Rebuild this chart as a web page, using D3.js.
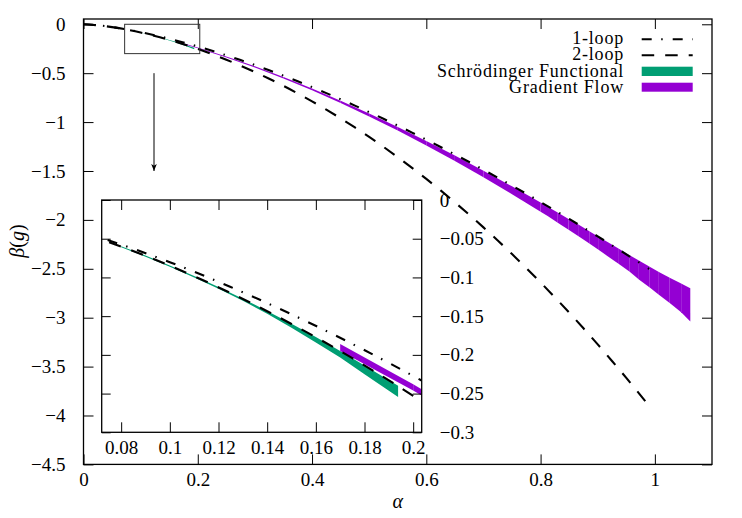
<!DOCTYPE html>
<html><head><meta charset="utf-8">
<script src="https://cdn.jsdelivr.net/npm/d3@7"></script>
<style>
body{margin:0;background:#fff;}
svg{display:block;}
svg text{font-family:"Liberation Serif","DejaVu Serif",serif !important;}
</style></head><body>
<svg id="c" width="742" height="518"></svg>
<script>
// ---------- data ----------
const alpha   = [0,0.025,0.05,0.075,0.1,0.125,0.15,0.175,0.2,0.225,0.25,0.275,0.3,0.325,0.35,0.375,0.4,0.425,0.45,0.475,0.5,0.525,0.55,0.575,0.6,0.625,0.65,0.675,0.7,0.725,0.75,0.775,0.8,0.825,0.85,0.875,0.9,0.925,0.95,0.975,0.99];
const oneLoop = [0,-0.0100,-0.0284,-0.0522,-0.0803,-0.1123,-0.1476,-0.1859,-0.2272,-0.2711,-0.3175,-0.3663,-0.4174,-0.4706,-0.5259,-0.5833,-0.6426,-0.7038,-0.7668,-0.8315,-0.8980,-0.9662,-1.0360,-1.1075,-1.1805,-1.2550,-1.3311,-1.4086,-1.4876,-1.5680,-1.6498,-1.7329,-1.8175,-1.9033,-1.9905,-2.0790,-2.1687,-2.2597,-2.3519,-2.4454,-2.5020];
const twoLoop = [0,-0.0101,-0.0292,-0.0544,-0.0849,-0.1202,-0.1601,-0.2043,-0.2529,-0.3056,-0.3624,-0.4233,-0.4882,-0.5571,-0.6300,-0.7070,-0.7880,-0.8730,-0.9620,-1.0550,-1.1520,-1.2532,-1.3584,-1.4678,-1.5812,-1.6988,-1.8206,-1.9465,-2.0767,-2.2111,-2.3498,-2.4927,-2.6401,-2.7917,-2.9477,-3.1082,-3.2729,-3.4422,-3.6160,-3.7943,-3.9030];

const sfAlpha = [0.08,0.09,0.10,0.11,0.12,0.13,0.14,0.15,0.16,0.17,0.18,0.1938];
const sfUpper = [-0.0598,-0.0718,-0.0846,-0.0982,-0.1125,-0.1275,-0.1432,-0.1597,-0.1770,-0.1950,-0.2136,-0.2400];
const sfLower = [-0.0610,-0.0732,-0.0862,-0.1000,-0.1147,-0.1302,-0.1468,-0.1650,-0.1840,-0.2035,-0.2250,-0.2545];

const gfAlpha = [0.17,0.2,0.25,0.3,0.35,0.4,0.45,0.5,0.55,0.6,0.65,0.7,0.75,0.8,0.813,0.83,0.849,0.867,0.886,0.902,0.918,0.937,0.956,0.972,0.991,1.007,1.026,1.046,1.062];
const gfUpper = [-0.186,-0.238,-0.330,-0.430,-0.540,-0.657,-0.782,-0.913,-1.050,-1.193,-1.342,-1.497,-1.657,-1.822,-1.868,-1.925,-1.990,-2.050,-2.118,-2.174,-2.229,-2.296,-2.361,-2.416,-2.480,-2.532,-2.591,-2.651,-2.700];
const gfLower = [-0.195,-0.246,-0.340,-0.442,-0.555,-0.675,-0.805,-0.942,-1.087,-1.240,-1.398,-1.563,-1.738,-1.918,-1.963,-2.028,-2.101,-2.170,-2.245,-2.309,-2.374,-2.451,-2.530,-2.610,-2.690,-2.765,-2.850,-2.945,-3.040];

const xTicks = [0,0.2,0.4,0.6,0.8,1];
const xTickLabels = ["0","0.2","0.4","0.6","0.8","1"];
const yTicks = [0,-0.5,-1,-1.5,-2,-2.5,-3,-3.5,-4,-4.5];
const yTickLabels = ["0","\u22120.5","\u22121","\u22121.5","\u22122","\u22122.5","\u22123","\u22123.5","\u22124","\u22124.5"];
const insetXTicks = [0.08,0.1,0.12,0.14,0.16,0.18,0.2];
const insetXTickLabels = ["0.08","0.1","0.12","0.14","0.16","0.18","0.2"];
const insetYTicks = [0,-0.05,-0.1,-0.15,-0.2,-0.25,-0.3];
const insetYTickLabels = ["0","\u22120.05","\u22120.1","\u22120.15","\u22120.2","\u22120.25","\u22120.3"];
const insetXDomain = [0.072,0.2035];
const insetYDomain = [-0.3,0];
const arrowAlpha = [0.1234,0.1234];
const arrowBeta = [-0.5,-1.5];
const legendLabels = ["1-loop","2-loop","Schr\u00f6dinger Functional","Gradient Flow"];

// ---------- styles ----------
const GREEN = "#009e73", PURPLE = "#9400d3";
const DASH1 = "10,9.5,1.5,10";   // dash-dot
const DASH2 = "12.5,11";         // dashed
const LW = 2.1;
const FONT = 19;

const svg = d3.select("#c");
svg.append("rect").attr("width",742).attr("height",518).attr("fill","#fff");

// ---------- main scales ----------
const x = d3.scaleLinear().domain([0,1.1]).range([83.5,712]);
const y = d3.scaleLinear().domain([-4.5,0.054]).range([464.4,19]);

const defs = svg.append("defs");
defs.append("clipPath").attr("id","clipMain").append("rect")
  .attr("x",x.range()[0]).attr("y",y.range()[1])
  .attr("width",x.range()[1]-x.range()[0]).attr("height",y.range()[0]-y.range()[1]);

function drawPlot(g, xs, ys, clipId){
  const pg = g.append("g").attr("clip-path",`url(#${clipId})`);
  const sfData = sfAlpha.map((a,i)=>({a,u:sfUpper[i],l:sfLower[i]}));
  pg.append("path").datum(sfData)
    .attr("d", d3.area().x(d=>xs(d.a)).y0(d=>ys(d.l)).y1(d=>ys(d.u)))
    .attr("fill",GREEN);
  const gfData = gfAlpha.map((a,i)=>({a,u:gfUpper[i],l:gfLower[i]}));
  const ar = d3.area().x(d=>xs(d.a)).y0(d=>ys(d.l)).y1(d=>ys(d.u));
  for(let i=0;i<gfData.length-1;i++){
    pg.append("path").datum([gfData[i],gfData[i+1]]).attr("d",ar).attr("fill",PURPLE);
  }
  const pts1 = alpha.map((a,i)=>[a,oneLoop[i]]);
  const pts2 = alpha.map((a,i)=>[a,twoLoop[i]]);
  const ln = d3.line().x(d=>xs(d[0])).y(d=>ys(d[1])).curve(d3.curveMonotoneX);
  pg.append("path").datum(pts2).attr("d",ln).attr("fill","none")
    .attr("stroke","#000").attr("stroke-width",LW).attr("stroke-dasharray",DASH2);
  pg.append("path").datum(pts1).attr("d",ln).attr("fill","none")
    .attr("stroke","#000").attr("stroke-width",LW).attr("stroke-dasharray",DASH1);
}

const main = svg.append("g");
drawPlot(main, x, y, "clipMain");

function styleAxis(g){
  g.select(".domain").remove();
  g.attr("font-size",FONT);
  g.selectAll(".tick line").attr("stroke","#000").attr("stroke-width",1);
  g.selectAll(".tick text").attr("fill","#000");
}

main.append("g").attr("transform",`translate(0,${y.range()[0]})`)
  .call(d3.axisBottom(x).tickValues(xTicks).tickFormat((d,i)=>xTickLabels[i]).tickSizeInner(-10).tickSizeOuter(0).tickPadding(8.5))
  .call(styleAxis);
main.append("g").attr("transform",`translate(0,${y.range()[1]})`)
  .call(d3.axisTop(x).tickValues(xTicks).tickFormat("").tickSizeInner(-10).tickSizeOuter(0))
  .call(styleAxis);
main.append("g").attr("transform",`translate(${x.range()[0]},0)`)
  .call(d3.axisLeft(y).tickValues(yTicks).tickFormat((d,i)=>yTickLabels[i]).tickSizeInner(-10).tickSizeOuter(0).tickPadding(18))
  .call(styleAxis);
main.append("g").attr("transform",`translate(${x.range()[1]},0)`)
  .call(d3.axisRight(y).tickValues(yTicks).tickFormat("").tickSizeInner(-10).tickSizeOuter(0))
  .call(styleAxis);
main.append("rect").attr("x",x.range()[0]).attr("y",y.range()[1])
  .attr("width",x.range()[1]-x.range()[0]).attr("height",y.range()[0]-y.range()[1])
  .attr("fill","none").attr("stroke","#000").attr("stroke-width",1.3);

main.append("rect")
  .attr("x",x(insetXDomain[0])).attr("y",y(insetYDomain[1]))
  .attr("width",x(insetXDomain[1])-x(insetXDomain[0])).attr("height",y(insetYDomain[0])-y(insetYDomain[1]))
  .attr("fill","none").attr("stroke","#333").attr("stroke-width",1);
defs.append("marker").attr("id","arr").attr("viewBox","0 0 10 10").attr("refX",10).attr("refY",5)
  .attr("markerWidth",7).attr("markerHeight",7).attr("markerUnits","userSpaceOnUse").attr("orient","auto")
  .append("path").attr("d","M0,1 L10,5 L0,9 L2.5,5 Z").attr("fill","#000");
main.append("line")
  .attr("x1",x(arrowAlpha[0])).attr("y1",y(arrowBeta[0]))
  .attr("x2",x(arrowAlpha[1])).attr("y2",y(arrowBeta[1]))
  .attr("stroke","#000").attr("stroke-width",1).attr("marker-end","url(#arr)");

svg.append("text").attr("x",x(0.55)).attr("y",508).attr("text-anchor","middle")
  .attr("font-size",FONT+1).attr("font-style","italic").text("\u03b1");
svg.append("text").attr("transform","translate(24,241) rotate(-90)").attr("text-anchor","middle")
  .attr("font-size",FONT+1).html('<tspan font-style="italic">\u03b2</tspan>(<tspan font-style="italic">g</tspan>)');

const lg = svg.append("g").attr("font-size",18).attr("letter-spacing","0.8");
const legY = [44.3,60.3,76.5,92.7];
legendLabels.forEach((t,i)=>{
  lg.append("text").attr("x",624).attr("y",legY[i]).attr("text-anchor","end").text(t);
});
lg.append("line").attr("x1",641.7).attr("x2",692.7).attr("y1",legY[0]-5).attr("y2",legY[0]-5)
  .attr("stroke","#000").attr("stroke-width",LW).attr("stroke-dasharray",DASH1);
lg.append("line").attr("x1",641.7).attr("x2",692.7).attr("y1",legY[1]-5).attr("y2",legY[1]-5)
  .attr("stroke","#000").attr("stroke-width",LW).attr("stroke-dasharray",DASH2);
lg.append("rect").attr("x",641.7).attr("y",legY[2]-9.8).attr("width",51).attr("height",9.3).attr("fill",GREEN);
lg.append("rect").attr("x",641.7).attr("y",legY[3]-10).attr("width",51).attr("height",9).attr("fill",PURPLE);

// ---------- inset ----------
const xi = d3.scaleLinear().domain(insetXDomain).range([101.7,421.7]);
const yi = d3.scaleLinear().domain(insetYDomain).range([432.3,200]);
defs.append("clipPath").attr("id","clipInset").append("rect")
  .attr("x",xi.range()[0]).attr("y",yi.range()[1])
  .attr("width",xi.range()[1]-xi.range()[0]).attr("height",yi.range()[0]-yi.range()[1]);
const inset = svg.append("g");
inset.append("rect").attr("x",xi.range()[0]).attr("y",yi.range()[1])
  .attr("width",xi.range()[1]-xi.range()[0]).attr("height",yi.range()[0]-yi.range()[1])
  .attr("fill","#fff");
drawPlot(inset, xi, yi, "clipInset");
inset.append("g").attr("transform",`translate(0,${yi.range()[0]})`)
  .call(d3.axisBottom(xi).tickValues(insetXTicks).tickFormat((d,i)=>insetXTickLabels[i]).tickSizeInner(-10).tickSizeOuter(0).tickPadding(8.5))
  .call(styleAxis);
inset.append("g").attr("transform",`translate(0,${yi.range()[1]})`)
  .call(d3.axisTop(xi).tickValues(insetXTicks).tickFormat("").tickSizeInner(-10).tickSizeOuter(0))
  .call(styleAxis);
inset.append("g").attr("transform",`translate(${xi.range()[1]},0)`)
  .call(d3.axisRight(yi).tickValues(insetYTicks).tickFormat((d,i)=>insetYTickLabels[i]).tickSizeInner(-9).tickSizeOuter(0).tickPadding(18))
  .call(styleAxis);
inset.append("g").attr("transform",`translate(${xi.range()[0]},0)`)
  .call(d3.axisLeft(yi).tickValues(insetYTicks).tickFormat("").tickSizeInner(-9).tickSizeOuter(0))
  .call(styleAxis);
inset.append("rect").attr("x",xi.range()[0]).attr("y",yi.range()[1])
  .attr("width",xi.range()[1]-xi.range()[0]).attr("height",yi.range()[0]-yi.range()[1])
  .attr("fill","none").attr("stroke","#000").attr("stroke-width",1.3);
</script>
</body></html>
